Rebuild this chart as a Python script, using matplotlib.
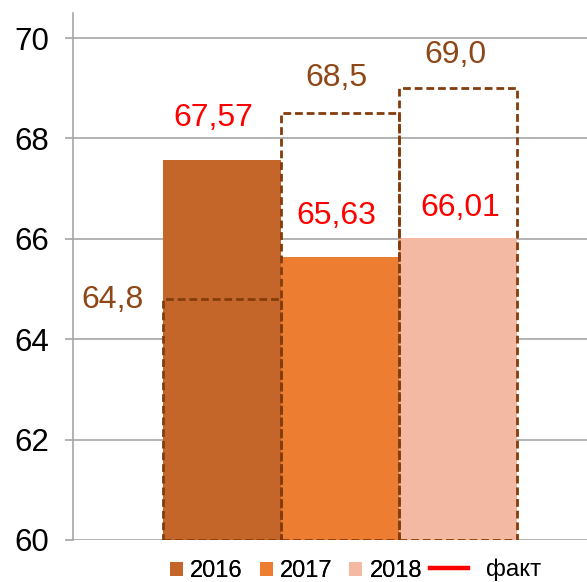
import matplotlib
matplotlib.use("Agg")
import matplotlib.pyplot as plt
from matplotlib.lines import Line2D
from matplotlib.patches import Patch

plt.rcParams['font.family'] = ['Liberation Sans', 'DejaVu Sans']

years = ["2016", "2017", "2018"]
fact = [67.57, 65.63, 66.01]
plan = [64.8, 68.5, 69.0]
fact_labels = ["67,57", "65,63", "66,01"]
plan_labels = ["64,8", "68,5", "69,0"]
yticks = [60, 62, 64, 66, 68, 70]
legend_fact = "факт"

bar_colors = ["#C4652A", "#ED7D31", "#F4B9A2"]
plan_color = "#843C0C"
plan_text_color = "#8E4716"
fact_text_color = "#FF0000"
grid_color = "#A6A6A6"

# label positions (data coordinates)
fact_label_pos = [(-0.076, 68.41), (0.97, 66.45), (2.02, 66.62)]
plan_label_pos = [(-0.93, 64.78), (0.966, 69.2), (1.98, 69.66)]

fig = plt.figure(figsize=(5.87, 5.82), dpi=100)
ax = fig.add_axes([73/587, 1 - 540/582, 1 - 73/587, 527/582])

x = list(range(len(years)))
ax.bar(x, [f - 60 for f in fact], bottom=60, width=1.0, color=bar_colors, zorder=2)
ax.bar(x, [p - 60 for p in plan], bottom=60, width=1.0, fill=False,
       edgecolor=plan_color, linewidth=2.0, linestyle=(0, (2.8, 1.4)), zorder=3)

for (px, py), t in zip(fact_label_pos, fact_labels):
    ax.text(px, py, t, color=fact_text_color, fontsize=23, ha='center', va='center', zorder=4)
for (px, py), t in zip(plan_label_pos, plan_labels):
    ax.text(px, py, t, color=plan_text_color, fontsize=23, ha='center', va='center', zorder=4)

ax.set_ylim(60, 70.5)
ax.set_xlim(-1.263, 3.093)
ax.set_yticks(yticks)
ax.set_yticklabels([str(v) for v in yticks], fontsize=22.5)
ax.set_xticks([])
ax.yaxis.grid(True, color=grid_color, linewidth=1.2, zorder=0)
ax.set_axisbelow(True)
for s in ['top', 'right', 'bottom']:
    ax.spines[s].set_visible(False)
ax.spines['left'].set_color(grid_color)
ax.spines['left'].set_linewidth(1.2)
ax.tick_params(axis='y', length=6, width=1.2, color=grid_color, pad=11)

handles = [Patch(facecolor=c, edgecolor='none') for c in bar_colors]
leg1 = fig.legend(handles, years, loc='center left', bbox_to_anchor=(170/587, 1 - 571/582),
                  ncol=3, frameon=False, fontsize=17, handlelength=0.55, handleheight=0.55,
                  handletextpad=0.3, columnspacing=0.72, borderpad=0, borderaxespad=0)
fig.add_artist(leg1)
leg2 = fig.legend([Line2D([0], [0], color='#FF0000', linewidth=3.2)], [legend_fact],
                  loc='center left', bbox_to_anchor=(430/587, 1 - 570/582),
                  frameon=False, fontsize=17.5, handlelength=1.55, handletextpad=0.75,
                  borderpad=0, borderaxespad=0)

fig.savefig("out.png", dpi=100)
